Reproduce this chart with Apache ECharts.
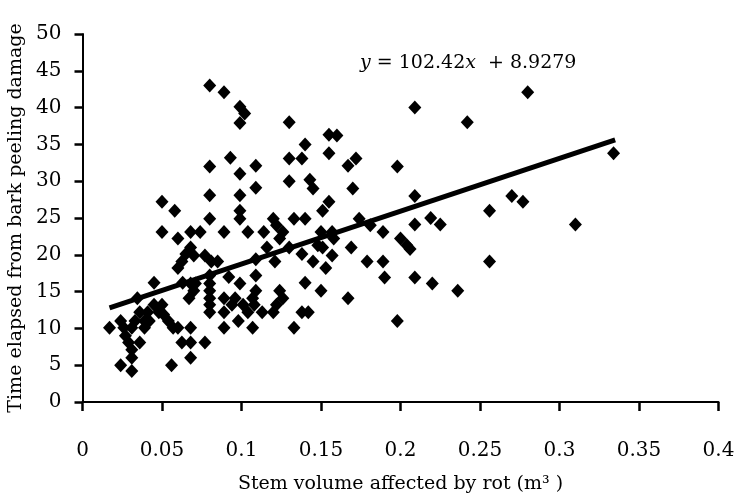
<!DOCTYPE html>
<html>
<head>
<meta charset="utf-8">
<script src="https://cdn.jsdelivr.net/npm/echarts@6/dist/echarts.min.js"></script>
<style>
  html, body { margin: 0; padding: 0; background: #fff; }
  #chart { width: 734px; height: 497px; }
</style>
</head>
<body>
<div id="chart"></div>
<script>
// stem volume affected by rot (m3)
var rotVolume = [
  0.017, 0.024, 0.026, 0.027, 0.029, 0.031, 0.031, 0.031, 0.031, 0.024,
  0.033, 0.036, 0.0345, 0.036, 0.039, 0.039, 0.041, 0.042, 0.045, 0.045,
  0.048, 0.05, 0.051, 0.054, 0.057, 0.06, 0.056, 0.0625, 0.068, 0.068,
  0.068, 0.077, 0.05, 0.05, 0.058, 0.06, 0.06, 0.0625, 0.065, 0.07,
  0.068, 0.068, 0.074, 0.063, 0.068, 0.07, 0.067, 0.071, 0.08, 0.08,
  0.08, 0.08, 0.077, 0.081, 0.08, 0.08, 0.08, 0.08, 0.08, 0.08,
  0.085, 0.089, 0.093, 0.089, 0.092, 0.089, 0.089, 0.089, 0.094, 0.096,
  0.099, 0.102, 0.099, 0.099, 0.099, 0.099, 0.099, 0.099, 0.098, 0.101,
  0.104, 0.104, 0.107, 0.109, 0.109, 0.109, 0.109, 0.109, 0.107, 0.108,
  0.113, 0.114, 0.116, 0.12, 0.122, 0.121, 0.12, 0.122, 0.124, 0.126,
  0.124, 0.126, 0.13, 0.13, 0.13, 0.13, 0.133, 0.133, 0.138, 0.14,
  0.138, 0.14, 0.14, 0.138, 0.142, 0.143, 0.145, 0.145, 0.15, 0.148,
  0.151, 0.151, 0.15, 0.153, 0.155, 0.155, 0.16, 0.155, 0.157, 0.158,
  0.157, 0.167, 0.172, 0.17, 0.169, 0.167, 0.174, 0.181, 0.179, 0.189,
  0.189, 0.19, 0.198, 0.198, 0.2, 0.204, 0.206, 0.209, 0.209, 0.209,
  0.209, 0.219, 0.22, 0.225, 0.236, 0.242, 0.256, 0.256, 0.27, 0.277,
  0.28, 0.31, 0.334
];
// time elapsed from bark peeling damage
var elapsedTime = [
  10.1, 11, 10.1, 9, 8.1, 10.1, 7.1, 6, 4.2, 5,
  11, 8.1, 14.1, 12.2, 11, 10.1, 12.2, 11, 16.2, 13.2,
  12.2, 13.2, 11.9, 11, 10.1, 10.1, 5, 8.1, 8.1, 10.1,
  6, 8.1, 27.2, 23.1, 26, 22.2, 18.2, 19.1, 20.1, 19.9,
  23.1, 21, 23.1, 16.2, 16.1, 15.1, 14.1, 16.1, 43, 32,
  28.1, 24.9, 19.9, 19.1, 17.2, 16.1, 15.1, 14.1, 13.2, 12.2,
  19.1, 42.1, 33.2, 23.1, 17, 14.1, 12.2, 10.1, 13.2, 14.1,
  40.1, 39.2, 37.9, 31, 28.1, 26, 24.9, 16.1, 11, 13.2,
  12.2, 23.1, 14.1, 29.1, 32.1, 19.4, 17.2, 15.1, 10.1, 13.2,
  12.2, 23.1, 21, 24.9, 24, 19.1, 12.2, 13.2, 15.1, 14.1,
  22.2, 23.1, 21, 38, 33.1, 30, 24.9, 10.1, 33.1, 35,
  20.1, 24.9, 16.2, 12.2, 12.2, 30.2, 29, 19.1, 23.1, 21.3,
  21, 26, 15.1, 18.2, 27.2, 36.3, 36.2, 33.8, 23.1, 22.2,
  19.9, 32.1, 33.1, 29, 21, 14.1, 24.9, 24, 19.1, 23.1,
  19.1, 16.9, 32, 11, 22.2, 21.3, 20.8, 40, 28, 24.1,
  16.9, 25, 16.1, 24.1, 15.1, 38, 26, 19.1, 28, 27.2,
  42.1, 24.1, 33.8
];
// fitted line as drawn on the figure (end points)
var trendX = [0.017, 0.335];
var trendY = [12.8, 35.6];
var equationText = '{i|y} = 102.42{i|x}  + 8.9279';

var points = rotVolume.map(function (v, i) { return [v, elapsedTime[i]]; });
var trend = trendX.map(function (v, i) { return [v, trendY[i]]; });

var serif = 'DejaVu Serif';
var chart = echarts.init(document.getElementById('chart'));
var option = {
  backgroundColor: '#fff',
  animation: false,
  grid: { left: 82.5, right: 15.5, top: 34, bottom: 95, containLabel: false, outerBoundsMode: 'none' },
  xAxis: {
    type: 'value',
    min: 0,
    max: 0.4,
    interval: 0.05,
    name: 'Stem volume affected by rot (m³ )',
    nameLocation: 'middle',
    nameGap: 73,
    nameTextStyle: { color: '#000', fontFamily: serif, fontSize: 19 },
    axisLine: { lineStyle: { color: '#000', width: 2 } },
    axisTick: { length: 9, lineStyle: { color: '#000', width: 2.5 } },
    axisLabel: { color: '#000', fontFamily: serif, fontSize: 20, margin: 39 },
    splitLine: { show: false }
  },
  yAxis: {
    type: 'value',
    min: 0,
    max: 50,
    interval: 5,
    name: 'Time elapsed from bark peeling damage',
    nameLocation: 'middle',
    nameGap: 57,
    nameTextStyle: { color: '#000', fontFamily: serif, fontSize: 19 },
    axisLine: { show: true, lineStyle: { color: '#000', width: 2 } },
    axisTick: { show: true, length: 8, lineStyle: { color: '#000', width: 2.5 } },
    axisLabel: { color: '#000', fontFamily: serif, fontSize: 20, margin: 21 },
    splitLine: { show: false }
  },
  series: [
    {
      type: 'scatter',
      symbol: 'diamond',
      symbolSize: [13, 14],
      itemStyle: { color: '#000', opacity: 1 },
      data: points
    },
    {
      type: 'line',
      showSymbol: false,
      symbol: 'none',
      lineStyle: { color: '#000', width: 5 },
      data: trend,
      z: 3
    }
  ],
  graphic: [
    {
      type: 'text',
      left: 360,
      top: 54,
      style: {
        text: equationText,
        fill: '#000',
        fontFamily: serif,
        fontSize: 19,
        rich: {
          i: { fontStyle: 'italic', fontFamily: serif, fontSize: 19, fill: '#000' }
        }
      }
    }
  ]
};
chart.setOption(option);
</script>
</body>
</html>
